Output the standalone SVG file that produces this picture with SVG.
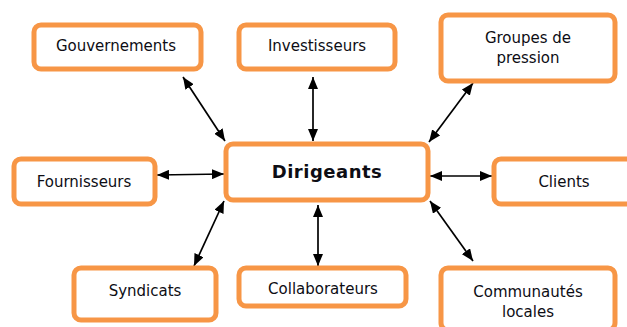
<svg xmlns="http://www.w3.org/2000/svg" width="627" height="327" viewBox="0 0 627 327">
<defs>
<marker id="ah" viewBox="0 0 12 10" refX="12" refY="5" markerWidth="12" markerHeight="10" markerUnits="userSpaceOnUse" orient="auto-start-reverse">
<path d="M0,0 L12,5 L0,10 z" fill="#000"/>
</marker>
<style>
.box{fill:#fff;stroke:#F79646;stroke-width:5}
.t{font-family:"DejaVu Sans","Liberation Sans",sans-serif;font-size:15px;fill:#0d0d14;text-anchor:middle}
.tb{font-family:"DejaVu Sans","Liberation Sans",sans-serif;font-size:18px;font-weight:bold;fill:#0d0d14;text-anchor:middle;letter-spacing:0.5px}
.c{stroke:#000;stroke-width:1.7;fill:none;marker-start:url(#ah);marker-end:url(#ah)}
</style>
</defs>
<rect width="627" height="327" fill="#fff"/>
<g id="connectors">
<line class="c" x1="183" y1="77" x2="225" y2="141"/>
<line class="c" x1="313" y1="77" x2="313" y2="141"/>
<line class="c" x1="473" y1="83" x2="429" y2="142"/>
<line class="c" x1="157" y1="175" x2="224" y2="174"/>
<line class="c" x1="430" y1="176" x2="492" y2="176"/>
<line class="c" x1="194" y1="266" x2="224" y2="201"/>
<line class="c" x1="318" y1="205" x2="318" y2="266"/>
<line class="c" x1="430" y1="201" x2="473" y2="261"/>
</g>
<g id="dirigeants"><rect class="box" x="226" y="144" width="202" height="56" rx="7"/><text class="tb" x="327" y="178">Dirigeants</text></g>
<g id="gouvernements"><rect class="box" x="34" y="25" width="167" height="44" rx="7"/><text class="t" x="116" y="51">Gouvernements</text></g>
<g id="investisseurs"><rect class="box" x="239" y="25" width="156" height="44" rx="7"/><text class="t" x="317" y="51">Investisseurs</text></g>
<g id="groupes"><rect class="box" x="441" y="15" width="174" height="66" rx="7"/><text class="t" x="528" y="43">Groupes de</text><text class="t" x="528" y="63">pression</text></g>
<g id="fournisseurs"><rect class="box" x="14" y="159" width="141" height="45" rx="7"/><text class="t" x="84" y="187">Fournisseurs</text></g>
<g id="clients"><rect class="box" x="494" y="159" width="140" height="45" rx="7"/><text class="t" x="564" y="187">Clients</text></g>
<g id="syndicats"><rect class="box" x="74" y="268" width="142" height="52" rx="7"/><text class="t" x="145" y="296">Syndicats</text></g>
<g id="collaborateurs"><rect class="box" x="239" y="268" width="167" height="38" rx="7"/><text class="t" x="323" y="294">Collaborateurs</text></g>
<g id="communautes"><rect class="box" x="441" y="268" width="174" height="62" rx="7"/><text class="t" x="528" y="297">Communautés</text><text class="t" x="528" y="317">locales</text></g>
</svg>
